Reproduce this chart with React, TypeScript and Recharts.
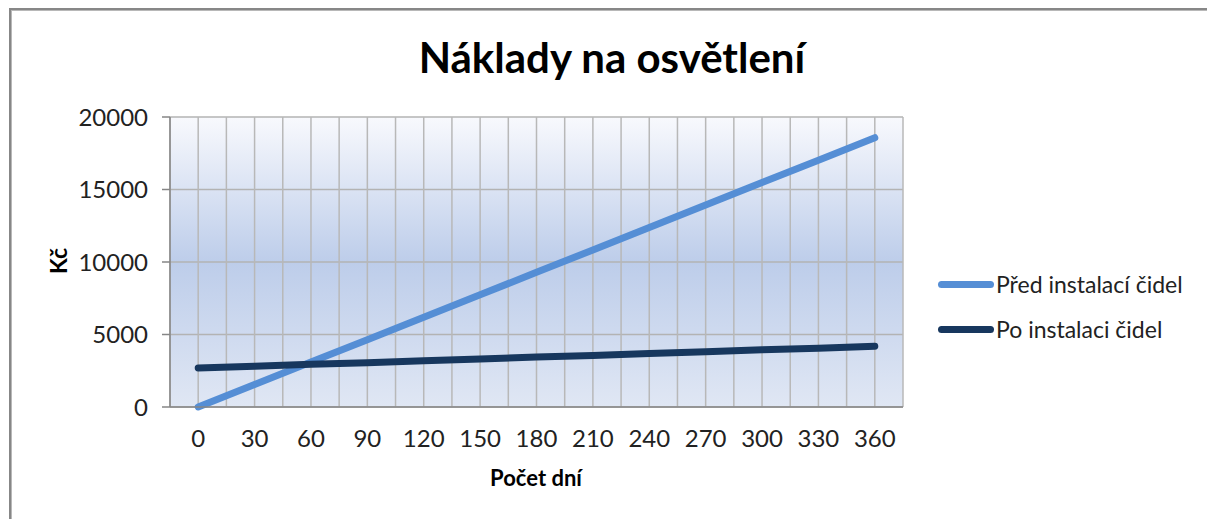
import { LineChart, Line, XAxis, YAxis, CartesianGrid, ReferenceLine } from "recharts"

// Počet dní (kategorie na ose X)
const days = [0, 30, 60, 90, 120, 150, 180, 210, 240, 270, 300, 330, 360]

// Náklady v Kč
const predInstalaci = [0, 1550, 3100, 4640, 6190, 7740, 9290, 10830, 12380, 13930, 15480, 17020, 18570]
const poInstalaci = [2690, 2810, 2940, 3060, 3190, 3310, 3440, 3560, 3690, 3810, 3940, 4060, 4190]

const yTicks = [0, 5000, 10000, 15000, 20000]
// mřížka po půl kategorii (hranice + středy)
const gridDays = [-15, 0, 15, 30, 45, 60, 75, 90, 105, 120, 135, 150, 165, 180, 195, 210, 225, 240, 255, 270, 285, 300, 315, 330, 345, 360, 375]

const series = [
  { key: "pred", name: "Před instalací čidel", color: "#558ed5" },
  { key: "po", name: "Po instalaci čidel", color: "#17375e" },
]

const data = days.map((d, i) => ({ day: d, pred: predInstalaci[i], po: poInstalaci[i] }))

const FONT = "Lato, 'Open Sans', sans-serif"

export default function App() {
  return (
    <div
      style={{
        position: "absolute",
        left: 0,
        top: 0,
        width: 1207,
        height: 519,
        overflow: "hidden",
        background: "#fff",
        fontFamily: FONT,
      }}
    >
      <div
        style={{
          position: "absolute",
          left: 9,
          top: 8,
          width: 1230,
          height: 540,
          border: "2px solid #878787",
          boxShadow: "inset 1px 1px 0 #b8b8b8",
        }}
      />

      <div
        style={{
          position: "absolute",
          left: 0,
          top: 0,
          width: 1207,
          height: 519,
        }}
      >
        <LineChart width={1207} height={519} data={data} margin={{ top: 117, right: 304, bottom: 0, left: 0 }}>
          <defs>
            <linearGradient id="plotBg" x1="0" y1="0" x2="0" y2="1">
              <stop offset="0%" stopColor="#f8f9fd" />
              <stop offset="50%" stopColor="#bdcdea" />
              <stop offset="100%" stopColor="#e0e7f4" />
            </linearGradient>
          </defs>
          <CartesianGrid fill="url(#plotBg)" vertical={false} stroke="#b3b3b3" strokeWidth={1.5} />
          {gridDays.map((g) => (
            <ReferenceLine key={g} x={g} stroke="#b8b8b8" strokeWidth={1.5} />
          ))}
          <XAxis
            dataKey="day"
            type="number"
            domain={[-15, 375]}
            ticks={days}
            height={112}
            tickLine={false}
            tickSize={0}
            tickMargin={23}
            axisLine={{ stroke: "#868686", strokeWidth: 1.5 }}
            tick={{ fontSize: 24, fill: "#222", fontFamily: FONT }}
            interval={0}
          />
          <YAxis
            domain={[0, 20000]}
            ticks={yTicks}
            width={170}
            tickSize={8}
            tickMargin={14}
            tickLine={{ stroke: "#868686", strokeWidth: 1.5 }}
            axisLine={{ stroke: "#868686", strokeWidth: 1.5 }}
            tick={{ fontSize: 24, fill: "#222", fontFamily: FONT }}
            interval={0}
          />
          {series.map((s) => (
            <Line
              key={s.key}
              type="linear"
              dataKey={s.key}
              name={s.name}
              stroke={s.color}
              strokeWidth={7}
              strokeLinecap="round"
              dot={false}
              activeDot={false}
              isAnimationActive={false}
            />
          ))}
        </LineChart>
      </div>

      {/* Nadpis */}
      <div
        style={{
          position: "absolute",
          left: 0,
          width: 1224,
          top: 32,
          textAlign: "center",
          fontSize: 42,
          fontWeight: 700,
          lineHeight: "50px",
          color: "#000",
        }}
      >
        Náklady na osvětlení
      </div>

      {/* Popisek osy Y */}
      <div
        style={{
          position: "absolute",
          left: 58,
          top: 261,
          transform: "translate(-50%, -50%) rotate(-90deg)",
          fontSize: 23,
          fontWeight: 700,
          lineHeight: "28px",
          color: "#000",
          whiteSpace: "nowrap",
        }}
      >
        Kč
      </div>

      {/* Popisek osy X */}
      <div
        style={{
          position: "absolute",
          left: 536,
          top: 478,
          transform: "translate(-50%, -50%)",
          fontSize: 22,
          fontWeight: 700,
          lineHeight: "28px",
          color: "#000",
          whiteSpace: "nowrap",
        }}
      >
        Počet dní
      </div>

      {/* Legenda */}
      {series.map((s, i) => (
        <div
          key={s.key}
          style={{
            position: "absolute",
            left: 938,
            top: 284 + i * 45 - 15,
            height: 30,
            display: "flex",
            alignItems: "center",
            whiteSpace: "nowrap",
          }}
        >
          <div style={{ width: 56, height: 7, borderRadius: 4, background: s.color }} />
          <span style={{ marginLeft: 2, fontSize: 23, color: "#222" }}>{s.name}</span>
        </div>
      ))}
    </div>
  )
}
